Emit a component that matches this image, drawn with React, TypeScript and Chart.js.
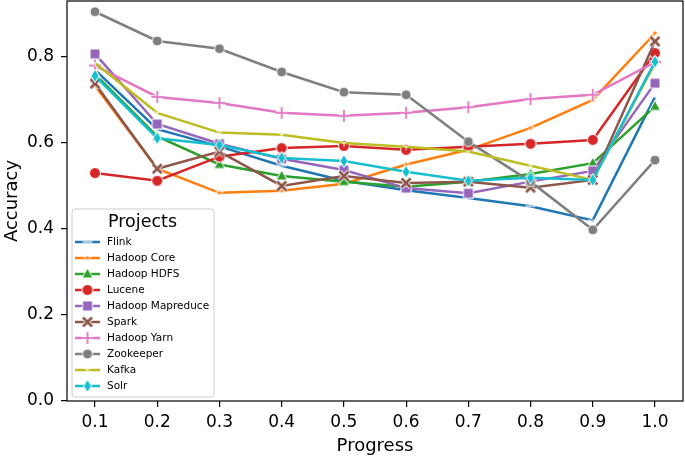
import React, { useEffect, useRef } from 'react';
import { Chart, registerables } from 'chart.js';
Chart.register(...registerables);

const progress = [0.1, 0.2, 0.3, 0.4, 0.5, 0.6, 0.7, 0.8, 0.9, 1.0];
const xTicks = [0.1, 0.2, 0.3, 0.4, 0.5, 0.6, 0.7, 0.8, 0.9, 1.0];
const yTicks = [0.0, 0.2, 0.4, 0.6, 0.8];

const projectNames = ['Flink', 'Hadoop Core', 'Hadoop HDFS', 'Lucene', 'Hadoop Mapreduce', 'Spark', 'Hadoop Yarn', 'Zookeeper', 'Kafka', 'Solr'];

const flink = [0.77, 0.632, 0.592, 0.547, 0.512, 0.49, 0.472, 0.453, 0.42, 0.707];
const hadoopCore = [0.733, 0.54, 0.484, 0.489, 0.505, 0.55, 0.584, 0.635, 0.70, 0.855];
const hadoopHdfs = [0.76, 0.615, 0.55, 0.523, 0.51, 0.498, 0.51, 0.528, 0.553, 0.685];
const lucene = [0.53, 0.512, 0.568, 0.588, 0.593, 0.584, 0.591, 0.598, 0.607, 0.809];
const hadoopMapreduce = [0.807, 0.644, 0.598, 0.563, 0.537, 0.495, 0.483, 0.51, 0.535, 0.739];
const spark = [0.738, 0.54, 0.58, 0.50, 0.523, 0.507, 0.51, 0.496, 0.514, 0.836];
const hadoopYarn = [0.78, 0.707, 0.693, 0.67, 0.663, 0.67, 0.683, 0.702, 0.712, 0.788];
const zookeeper = [0.905, 0.837, 0.819, 0.765, 0.718, 0.712, 0.603, 0.51, 0.398, 0.56];
const kafka = [0.786, 0.67, 0.624, 0.619, 0.60, 0.591, 0.58, 0.547, 0.514, 0.785];
const solr = [0.756, 0.611, 0.595, 0.565, 0.558, 0.533, 0.512, 0.519, 0.514, 0.789];

const seriesValues = [flink, hadoopCore, hadoopHdfs, lucene, hadoopMapreduce, spark, hadoopYarn, zookeeper, kafka, solr];
const colors = ['#1f77b4', '#ff7f0e', '#2ca02c', '#d62728', '#9467bd', '#8c564b', '#e377c2', '#7f7f7f', '#bcbd22', '#17becf'];
const markerKinds = ['hline', 'star', 'triangle', 'circle', 'square', 'x', 'plus', 'circleSmall', 'tri', 'diamond'];

function makeMarker(kind: string, color: string): HTMLCanvasElement {
  const size = 18;
  const c = document.createElement('canvas');
  c.width = size;
  c.height = size;
  const ctx = c.getContext('2d')!;
  ctx.translate(size / 2, size / 2);
  ctx.lineJoin = 'miter';
  const fillStroke = () => {
    ctx.fillStyle = color;
    ctx.fill();
    ctx.strokeStyle = '#ffffff';
    ctx.lineWidth = 1;
    ctx.stroke();
  };
  if (kind === 'circle' || kind === 'circleSmall') {
    ctx.beginPath();
    ctx.arc(0, 0, kind === 'circle' ? 5.5 : 5, 0, Math.PI * 2);
    fillStroke();
  } else if (kind === 'square') {
    ctx.beginPath();
    ctx.rect(-5, -5, 10, 10);
    fillStroke();
  } else if (kind === 'triangle') {
    ctx.beginPath();
    ctx.moveTo(0, -6);
    ctx.lineTo(5.5, 4);
    ctx.lineTo(-5.5, 4);
    ctx.closePath();
    fillStroke();
  } else if (kind === 'diamond') {
    ctx.beginPath();
    ctx.moveTo(0, -6.5);
    ctx.lineTo(4, 0);
    ctx.lineTo(0, 6.5);
    ctx.lineTo(-4, 0);
    ctx.closePath();
    fillStroke();
  } else if (kind === 'star') {
    ctx.beginPath();
    for (let i = 0; i < 10; i++) {
      const r = i % 2 === 0 ? 3.8 : 1.6;
      const a = -Math.PI / 2 + (i * Math.PI) / 5;
      const px = Math.cos(a) * r;
      const py = Math.sin(a) * r;
      if (i === 0) ctx.moveTo(px, py);
      else ctx.lineTo(px, py);
    }
    ctx.closePath();
    ctx.fillStyle = color;
    ctx.fill();
    ctx.strokeStyle = '#ffffff';
    ctx.lineWidth = 0.8;
    ctx.stroke();
  } else if (kind === 'x' || kind === 'plus') {
    const d = kind === 'x' ? 4.5 : 6;
    const segs = kind === 'x'
      ? [[-d, -d, d, d], [-d, d, d, -d]]
      : [[-d, 0, d, 0], [0, -d, 0, d]];
    ctx.lineCap = 'butt';
    ctx.strokeStyle = '#ffffff';
    ctx.lineWidth = kind === 'x' ? 4.5 : 3.5;
    for (const s of segs) {
      ctx.beginPath();
      ctx.moveTo(s[0], s[1]);
      ctx.lineTo(s[2], s[3]);
      ctx.stroke();
    }
    ctx.strokeStyle = color;
    ctx.lineWidth = kind === 'x' ? 2.6 : 1.8;
    for (const s of segs) {
      ctx.beginPath();
      ctx.moveTo(s[0], s[1]);
      ctx.lineTo(s[2], s[3]);
      ctx.stroke();
    }
  } else if (kind === 'hline') {
    ctx.strokeStyle = '#ffffff';
    ctx.lineWidth = 1.2;
    ctx.beginPath();
    ctx.moveTo(-5, 0);
    ctx.lineTo(5, 0);
    ctx.stroke();
  } else if (kind === 'tri') {
    ctx.strokeStyle = '#ffffff';
    ctx.lineWidth = 1;
    ctx.beginPath();
    ctx.moveTo(0, 0); ctx.lineTo(0, 3.5);
    ctx.moveTo(0, 0); ctx.lineTo(-3, -1.7);
    ctx.moveTo(0, 0); ctx.lineTo(3, -1.7);
    ctx.stroke();
  }
  return c;
}

const frameAndLegend = {
  id: 'frameAndLegend',
  afterDraw(chart: any) {
    const ctx = chart.ctx;
    const a = chart.chartArea;
    ctx.save();
    // spines
    ctx.strokeStyle = '#000000';
    ctx.lineWidth = 1.2;
    ctx.strokeRect(a.left, a.top, a.right - a.left, a.bottom - a.top);

    // legend box
    const bx = 72, by = 209, bw = 142, bh = 188, r = 3;
    ctx.beginPath();
    ctx.moveTo(bx + r, by);
    ctx.lineTo(bx + bw - r, by);
    ctx.quadraticCurveTo(bx + bw, by, bx + bw, by + r);
    ctx.lineTo(bx + bw, by + bh - r);
    ctx.quadraticCurveTo(bx + bw, by + bh, bx + bw - r, by + bh);
    ctx.lineTo(bx + r, by + bh);
    ctx.quadraticCurveTo(bx, by + bh, bx, by + bh - r);
    ctx.lineTo(bx, by + r);
    ctx.quadraticCurveTo(bx, by, bx + r, by);
    ctx.closePath();
    ctx.fillStyle = 'rgba(255,255,255,0.8)';
    ctx.fill();
    ctx.strokeStyle = '#cccccc';
    ctx.lineWidth = 1;
    ctx.stroke();

    ctx.fillStyle = '#000000';
    ctx.font = '17.5px "DejaVu Sans"';
    ctx.textAlign = 'center';
    ctx.textBaseline = 'middle';
    ctx.fillText('Projects', 142.5, 222);

    ctx.font = '10.5px "DejaVu Sans"';
    ctx.textAlign = 'left';
    chart.data.datasets.forEach((ds: any, i: number) => {
      const y = 242 + i * 16;
      ctx.strokeStyle = ds.borderColor;
      ctx.lineWidth = 2.5;
      ctx.beginPath();
      ctx.moveTo(75, y);
      ctx.lineTo(100, y);
      ctx.stroke();
      const m = ds.pointStyle as HTMLCanvasElement;
      ctx.drawImage(m, 87.5 - m.width / 2, y - m.height / 2);
      ctx.fillStyle = '#000000';
      ctx.fillText(ds.label, 107, y + 0.5);
    });
    ctx.restore();
  },
};

export default function App() {
  const ref = useRef<HTMLCanvasElement | null>(null);
  useEffect(() => {
    document.body.style.margin = '0';
    Chart.defaults.font.family = '"DejaVu Sans"';
    Chart.defaults.color = '#000000';
    const datasets = projectNames.map((name, i) => ({
      label: name,
      data: progress.map((p, j) => ({ x: p, y: seriesValues[i][j] })),
      borderColor: colors[i],
      backgroundColor: colors[i],
      borderWidth: 2.5,
      pointStyle: makeMarker(markerKinds[i], colors[i]),
      pointRadius: 5,
      pointHoverRadius: 5,
      tension: 0,
      order: 10 - i,
    }));
    const chart = new Chart(ref.current!, {
      type: 'line',
      data: { datasets },
      plugins: [frameAndLegend],
      options: {
        animation: false,
        responsive: false,
        events: [],
        layout: { autoPadding: false, padding: { top: 1, right: 2, left: 0, bottom: 0 } },
        plugins: { legend: { display: false }, tooltip: { enabled: false } },
        scales: {
          x: {
            type: 'linear',
            min: 0.055,
            max: 1.045,
            afterBuildTicks: (s: any) => { s.ticks = xTicks.map((v) => ({ value: v })); },
            afterFit: (s: any) => { s.height = 56; s.paddingLeft = 0; s.paddingRight = 0; },
            ticks: {
              font: { size: 17 },
              padding: 5,
              maxRotation: 0,
              autoSkip: false,
              callback: (v: any) => Number(v).toFixed(1),
            },
            grid: { display: true, drawOnChartArea: false, drawTicks: true, tickLength: 6, color: '#000000', lineWidth: 1.2 },
            border: { display: false },
            title: { display: true, text: 'Progress', font: { size: 18 }, padding: { top: 0, bottom: 0 } },
          },
          y: {
            type: 'linear',
            min: 0,
            max: 0.93,
            afterBuildTicks: (s: any) => { s.ticks = yTicks.map((v) => ({ value: v })); },
            afterFit: (s: any) => { s.width = 67; s.paddingTop = 0; s.paddingBottom = 0; },
            ticks: {
              font: { size: 17 },
              padding: 7,
              autoSkip: false,
              callback: (v: any) => Number(v).toFixed(1),
            },
            grid: { display: true, drawOnChartArea: false, drawTicks: true, tickLength: 6, color: '#000000', lineWidth: 1.2 },
            border: { display: false },
            title: { display: true, text: 'Accuracy', font: { size: 18 }, padding: { top: 2, bottom: 0 } },
          },
        },
      },
    });
    return () => chart.destroy();
  }, []);
  return (
    <div style={{ width: 685, height: 457 }}>
      <canvas ref={ref} width={685} height={457} style={{ display: 'block' }} />
    </div>
  );
}
